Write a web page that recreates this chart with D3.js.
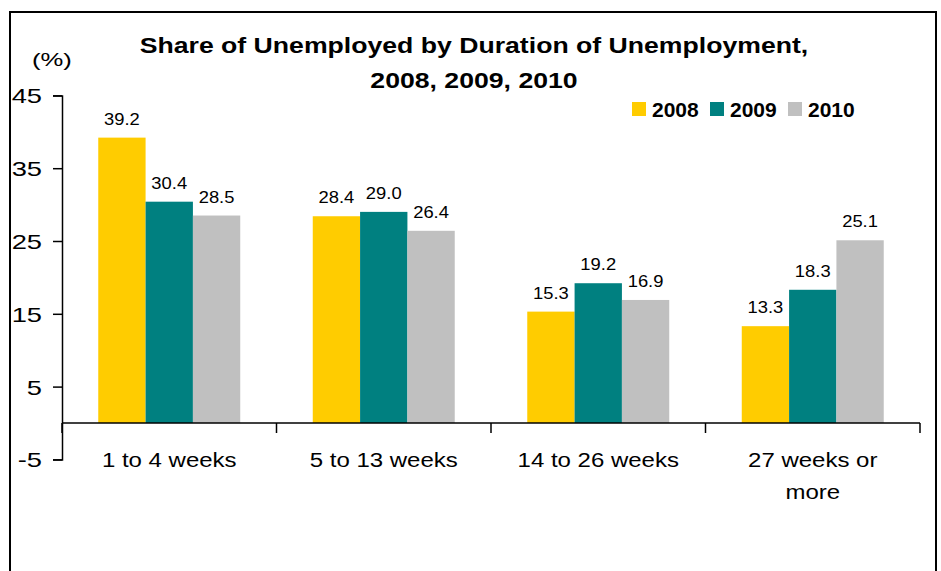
<!DOCTYPE html>
<html>
<head>
<meta charset="utf-8">
<script src="https://cdn.jsdelivr.net/npm/d3@7"></script>
<style>
  html, body { margin: 0; padding: 0; background: #fff; }
  svg { display: block; font-family: "Liberation Sans", Arial, sans-serif; }
</style>
</head>
<body>
<svg id="chart" width="941" height="571"></svg>
<script>
// Share of unemployed by duration of unemployment (%)
const categories = ["1 to 4 weeks", "5 to 13 weeks", "14 to 26 weeks", "27 weeks or more"];
const categoryLines = [["1 to 4 weeks"], ["5 to 13 weeks"], ["14 to 26 weeks"], ["27 weeks or", "more"]];
const years = ["2008", "2009", "2010"];
const values2008 = [39.2, 28.4, 15.3, 13.3];
const values2009 = [30.4, 29.0, 19.2, 18.3];
const values2010 = [28.5, 26.4, 16.9, 25.1];
const yTicks = [-5, 5, 15, 25, 35, 45];
const titleLines = ["Share of Unemployed by Duration of Unemployment,", "2008, 2009, 2010"];
const unitLabel = "(%)";

const seriesValues = [values2008, values2009, values2010];
const colors = { "2008": "#FFCC00", "2009": "#008080", "2010": "#C0C0C0" };

const svg = d3.select("#chart");

// widen a text element horizontally by factor k
function stretch(sel, k) {
  sel.each(function () {
    const w = this.getComputedTextLength();
    d3.select(this).attr("textLength", w * k).attr("lengthAdjust", "spacingAndGlyphs");
  });
  return sel;
}

// outer frame (runs past the bottom edge)
svg.append("rect")
  .attr("x", 10).attr("y", 12).attr("width", 926).attr("height", 620)
  .attr("fill", "none").attr("stroke", "#000").attr("stroke-width", 2);

const plotLeft = 62, plotRight = 920;
const y = d3.scaleLinear().domain([-5, 45]).range([459.4, 95.4]);
const x0 = d3.scaleBand().domain(categories).range([plotLeft, plotRight]).padding(0);
const x1 = d3.scaleBand().domain(years).range([0, x0.bandwidth()]).paddingInner(0).paddingOuter(0.766);

// y axis
const yAxis = d3.axisLeft(y).tickValues(yTicks).tickFormat(d => String(d))
  .tickSize(9).tickSizeOuter(9).tickPadding(11);
const yg = svg.append("g").attr("transform", `translate(${plotLeft},0)`).call(yAxis);
yg.select(".domain").attr("stroke", "#000").attr("stroke-width", 1.5);
yg.selectAll(".tick line").attr("stroke", "#000").attr("stroke-width", 1.5);
yg.selectAll(".tick text")
  .attr("font-size", 21).attr("fill", "#000")
  .attr("font-family", "Liberation Sans, Arial, sans-serif")
  .attr("dy", "0.36em");
stretch(yg.selectAll(".tick text"), 1.3);

// bars
const groups = svg.append("g").selectAll("g")
  .data(categories)
  .join("g")
  .attr("transform", d => `translate(${x0(d)},0)`);

groups.selectAll("rect")
  .data((c, i) => years.map((yr, j) => ({ yr, v: seriesValues[j][i] })))
  .join("rect")
  .attr("x", d => x1(d.yr))
  .attr("width", x1.bandwidth())
  .attr("y", d => y(Math.max(0, d.v)))
  .attr("height", d => Math.abs(y(d.v) - y(0)))
  .attr("fill", d => colors[d.yr]);

// value labels
const vlabels = groups.selectAll("text.val")
  .data((c, i) => years.map((yr, j) => ({ yr, v: seriesValues[j][i] })))
  .join("text")
  .attr("class", "val")
  .attr("x", d => x1(d.yr) + x1.bandwidth() / 2)
  .attr("y", d => y(d.v) - 13)
  .attr("text-anchor", "middle")
  .attr("font-size", 17)
  .attr("fill", "#000")
  .text(d => d.v.toFixed(1));
stretch(vlabels, 1.08);

// x axis line at zero with boundary ticks
const xg = svg.append("g");
xg.append("line")
  .attr("x1", plotLeft).attr("x2", plotRight)
  .attr("y1", y(0)).attr("y2", y(0))
  .attr("stroke", "#000").attr("stroke-width", 1.5);
const bounds = categories.map(c => x0(c)).concat([x0(categories[categories.length - 1]) + x0.bandwidth()]);
xg.selectAll("line.tick")
  .data(bounds)
  .join("line")
  .attr("class", "tick")
  .attr("x1", d => d).attr("x2", d => d)
  .attr("y1", y(0)).attr("y2", y(0) + 10)
  .attr("stroke", "#000").attr("stroke-width", 1.5);

// category labels
categories.forEach((c, i) => {
  categoryLines[i].forEach((line, k) => {
    const t = svg.append("text")
      .attr("x", x0(c) + x0.bandwidth() / 2)
      .attr("y", 467 + k * 32)
      .attr("text-anchor", "middle")
      .attr("font-size", 19.5)
      .attr("fill", "#000")
      .text(line);
    stretch(t, 1.23);
  });
});

// title
titleLines.forEach((line, k) => {
  const t = svg.append("text")
    .attr("x", 474)
    .attr("y", 53 + k * 35)
    .attr("text-anchor", "middle")
    .attr("font-size", 22)
    .attr("font-weight", "bold")
    .attr("fill", "#000")
    .text(line);
  stretch(t, 1.21);
});

// unit label
stretch(svg.append("text")
  .attr("x", 32).attr("y", 66)
  .attr("font-size", 19)
  .attr("fill", "#000")
  .text(unitLabel), 1.35);

// legend
const legendX = [632, 710, 788];
const legend = svg.append("g").selectAll("g")
  .data(years)
  .join("g")
  .attr("transform", (d, i) => `translate(${legendX[i]},102)`);
legend.append("rect")
  .attr("width", 14).attr("height", 14)
  .attr("fill", d => colors[d]);
stretch(legend.append("text")
  .attr("x", 20).attr("y", 14.5)
  .attr("font-size", 21)
  .attr("font-weight", "bold")
  .attr("fill", "#000")
  .text(d => d), 1.0);
</script>
</body>
</html>
